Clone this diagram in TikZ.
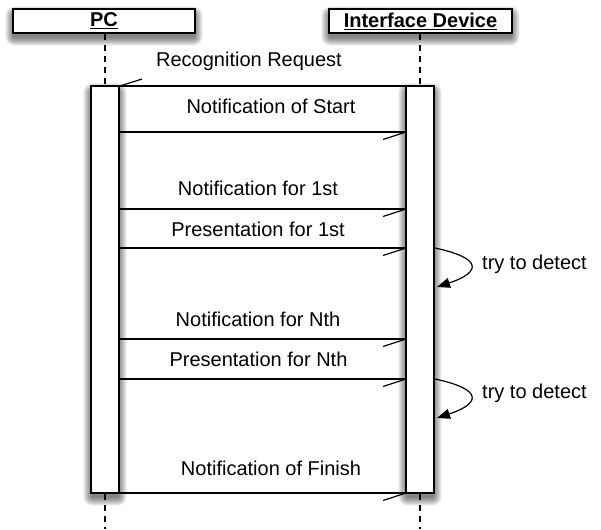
\documentclass[tikz,border=0pt]{standalone}
\usepackage{fontspec}
\setmainfont{Liberation Sans}
\usetikzlibrary{arrows.meta,backgrounds}
\begin{document}
\begin{tikzpicture}[x=1pt,y=-1pt,
  font=\fontsize{20}{24}\selectfont,
  headbox/.style={draw,fill=white,line width=1.2pt,minimum height=24pt,inner sep=0pt},
  actbar/.style={draw,fill=white,line width=1.2pt,minimum width=28pt,minimum height=407pt,inner sep=0pt},
  life/.style={line width=1.2pt,dash pattern=on 6pt off 5pt},
  msg/.style={line width=1.2pt},
  lbl/.style={anchor=base,fill=white,inner sep=2pt},
  shadowlayer/.style={fill=black,opacity=0.07},
  selfarrow/.style={line width=1.2pt,-{Triangle[length=13pt,width=10pt]}}
]
\useasboundingbox (0,0) rectangle (601,529);
% headers
\node[headbox,minimum width=182pt] (pc) at (104,21) {\textbf{\underline{PC}}};
\node[headbox,minimum width=183pt] (dev) at (420.5,21) {\textbf{\underline{Interface Device}}};
% activation bars
\node[actbar] (pcbar) at (105,289.5) {};
\node[actbar] (devbar) at (420,289.5) {};
% shadows
\begin{scope}[on background layer]
\foreach \n in {pc,dev,pcbar,devbar}{
  \foreach \r in {1,...,9}{
    \fill[shadowlayer,rounded corners=\r pt]
      ([xshift=-\r pt+2pt,yshift=\r pt-7pt]\n.north west) rectangle
      ([xshift=\r pt-2pt,yshift=-\r pt-3pt]\n.south east);
  }
}
\end{scope}
% bottom ends of lifelines
\coordinate (pcend) at (105,529);
\coordinate (devend) at (420,529);
% lifelines
\draw[life] (pc.south -| pcbar.north) -- (pcbar.north);
\draw[life] (dev.south -| devbar.north) -- (devbar.north);
\draw[life] (pcbar.south) -- (pcend);
\draw[life] (devbar.south) -- (devend);
% message end points
\coordinate (r0) at (406,86);  \coordinate (l0) at (119,86);
\coordinate (l1) at (119,132); \coordinate (r1) at (406,132);
\coordinate (l2) at (119,209); \coordinate (r2) at (406,209);
\coordinate (l3) at (119,248); \coordinate (r3) at (406,248);
\coordinate (l4) at (119,339); \coordinate (r4) at (406,339);
\coordinate (l5) at (119,379); \coordinate (r5) at (406,379);
\coordinate (l6) at (119,493); \coordinate (r6) at (406,493);
% labels
\node[lbl] (t0) at (249,66.5) {Recognition Request};
\node[lbl] (t1) at (271,114) {Notification of Start};
\node[lbl] (t2) at (258,196) {Notification for 1st};
\node[lbl] (t3) at (258,236) {Presentation for 1st};
\node[lbl] (t4) at (258,326.5) {Notification for Nth};
\node[lbl] (t5) at (258.5,366.5) {Presentation for Nth};
\node[lbl] (t6) at (271,475) {Notification of Finish};
% messages
\draw[msg] (r0) -- (l0);
\draw[msg] ([xshift=1pt]l0) -- ++(22,-7);
\foreach \i in {1,...,6}{
  \draw[msg] (l\i) -- (r\i);
  \draw[msg] (r\i) -- ++(-23,7.5);
}
% self messages
\coordinate (d1s) at (435,248); \coordinate (d1e) at (437,287);
\coordinate (d2s) at (435,379); \coordinate (d2e) at (437,418);
\draw[selfarrow] (d1s) .. controls (482,258) and (482,272) .. (d1e);
\draw[selfarrow] (d2s) .. controls (482,389) and (482,403) .. (d2e);
\node[anchor=base west,inner sep=0pt] (dt1) at (482,269) {try to detect};
\node[anchor=base west,inner sep=0pt] (dt2) at (482,398) {try to detect};
\end{tikzpicture}
\end{document}
